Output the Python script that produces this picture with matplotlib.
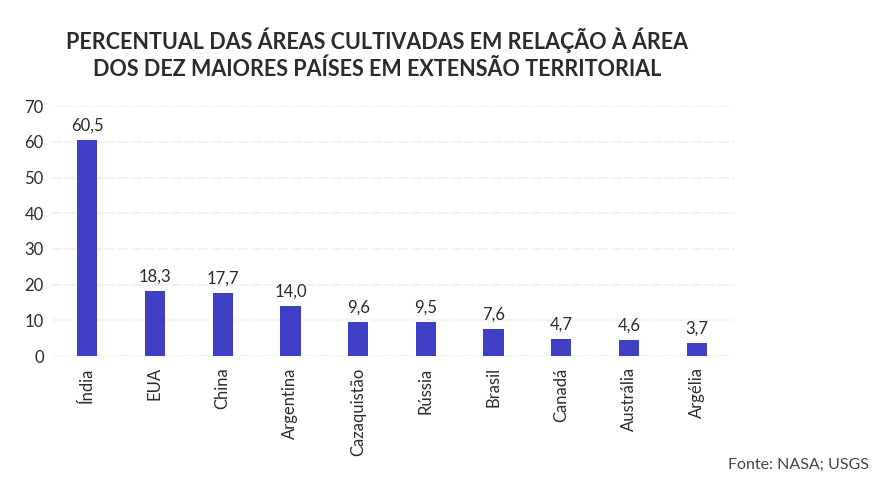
import matplotlib
matplotlib.use("Agg")
import matplotlib.pyplot as plt

plt.rcParams['font.family'] = ['Lato', 'DejaVu Sans']

paises = ["Índia", "EUA", "China", "Argentina", "Cazaquistão",
          "Rússia", "Brasil", "Canadá", "Austrália", "Argélia"]
percentuais = [60.5, 18.3, 17.7, 14.0, 9.6, 9.5, 7.6, 4.7, 4.6, 3.7]
yticks = [0, 10, 20, 30, 40, 50, 60, 70]

bar_color = "#3f3fc6"
text_color = "#2b2b2b"

fig = plt.figure(figsize=(8.82, 4.82), dpi=100)
ax = fig.add_axes([0.059, 0.261, 0.774, 0.519])

x = list(range(len(paises)))
ax.bar(x, percentuais, width=0.30, color=bar_color, zorder=3)

for xi, v in zip(x, percentuais):
    ax.text(xi, v + 1.8, f"{v:.1f}".replace(".", ","), ha="center", va="bottom",
            fontsize=12, color=text_color)

ax.set_xlim(-0.52, 9.56)
ax.set_ylim(0, 70)
ax.set_yticks(yticks)
ax.set_yticklabels([str(t) for t in yticks], fontsize=12, color=text_color)
ax.set_xticks(x)
ax.set_xticklabels(paises, rotation=90, fontsize=12, color=text_color)
ax.tick_params(axis="both", length=0)
ax.tick_params(axis="y", pad=6)
ax.tick_params(axis="x", pad=8)

for t in yticks:
    ax.axhline(t, color="#ededf3", linewidth=1.2, linestyle=(0, (6, 2)), zorder=1)

for s in ax.spines.values():
    s.set_visible(False)

fig.text(0.428, 0.888, "PERCENTUAL DAS ÁREAS CULTIVADAS EM RELAÇÃO À ÁREA\nDOS DEZ MAIORES PAÍSES EM EXTENSÃO TERRITORIAL",
         ha="center", va="center", fontsize=15.5, fontweight="bold", color=text_color,
         linespacing=1.3)

fig.text(0.985, 0.02, "Fonte: NASA; USGS", ha="right", va="bottom",
         fontsize=11.5, color="#444444")

fig.savefig("out.png", dpi=100)
